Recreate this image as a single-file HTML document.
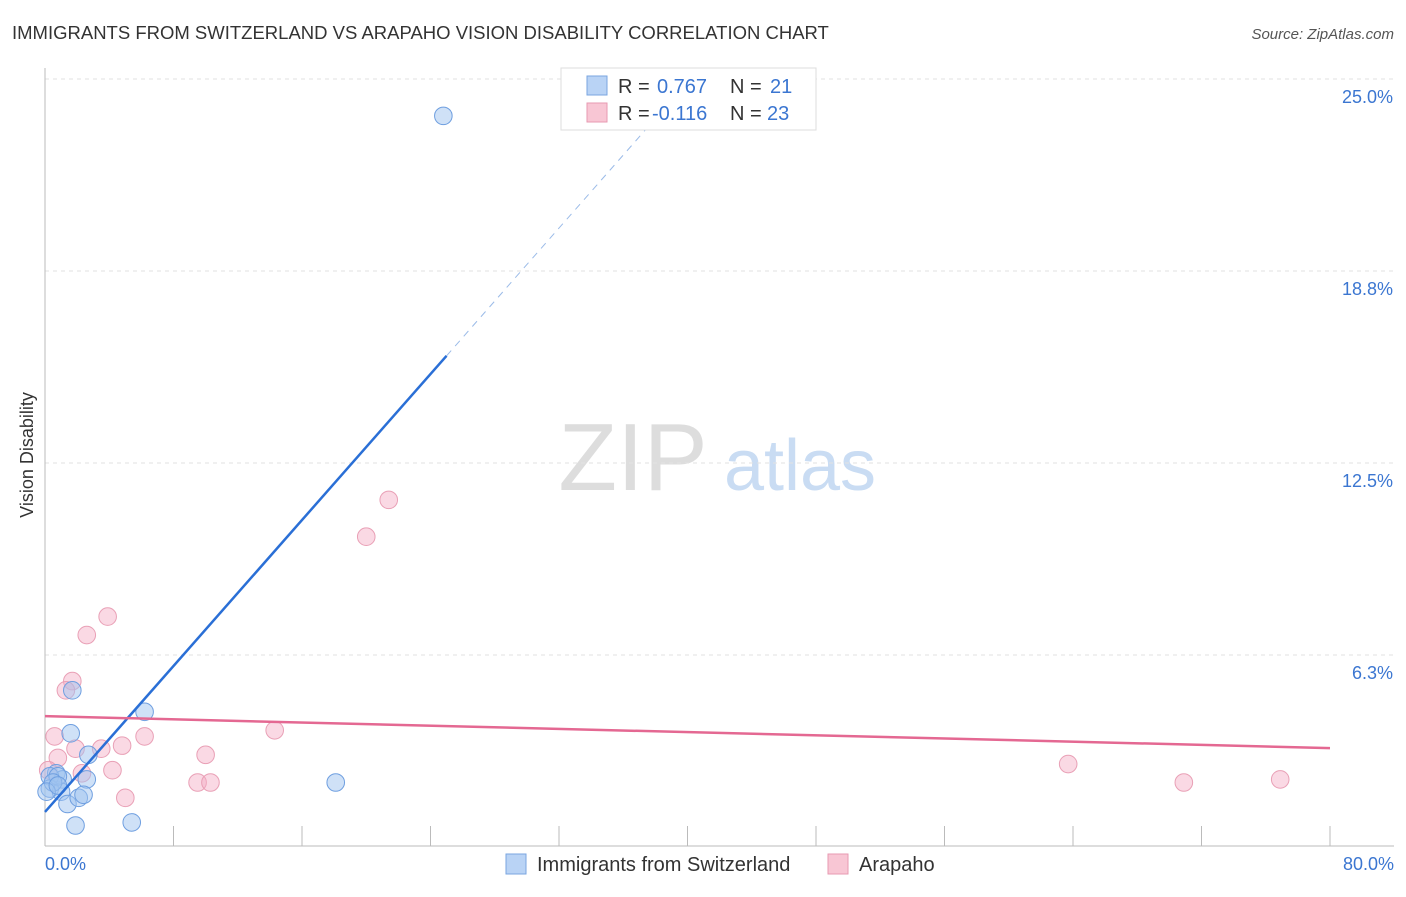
<!DOCTYPE html>
<html><head><meta charset="utf-8"><style>
body{margin:0;background:#fff;font-family:"Liberation Sans",sans-serif;}
svg text{font-family:"Liberation Sans",sans-serif;}
</style></head><body>
<svg id="chart" width="1406" height="892" xmlns="http://www.w3.org/2000/svg">
<text x="12" y="39" font-size="18.5" fill="#333">IMMIGRANTS FROM SWITZERLAND VS ARAPAHO VISION DISABILITY CORRELATION CHART</text>
<text x="1394" y="39" font-size="15" fill="#555" font-style="italic" text-anchor="end">Source: ZipAtlas.com</text>
<text x="33" y="455" font-size="18" fill="#333" text-anchor="middle" transform="rotate(-90 33 455)">Vision Disability</text>
<g><text x="633" y="490" font-size="96" fill="#ddd" font-family="Liberation Serif" text-anchor="middle">ZIP</text><text x="800" y="490" font-size="72" fill="#c9dcf3" text-anchor="middle">atlas</text></g>
<g id="grid"></g><g id="marks"></g>
<g>
<rect x="561" y="68" width="255" height="62" fill="#fff" stroke="#ddd"/>
<rect x="587" y="76" width="20" height="19" fill="#b9d3f5" stroke="#7aa6e0"/>
<text x="618" y="93" font-size="20" fill="#333">R = </text><text x="657" y="93" font-size="20" fill="#3b76d1">0.767</text>
<text x="730" y="93" font-size="20" fill="#333">N = </text><text x="770" y="93" font-size="20" fill="#3b76d1">21</text>
<rect x="587" y="103" width="20" height="19" fill="#f8c6d4" stroke="#e79ab2"/>
<text x="618" y="120" font-size="20" fill="#333">R = </text><text x="652" y="120" font-size="20" fill="#3b76d1">-0.116</text>
<text x="730" y="120" font-size="20" fill="#333">N = </text><text x="767" y="120" font-size="20" fill="#3b76d1">23</text>
</g>
<g>
<rect x="506" y="854" width="20" height="20" fill="#b9d3f5" stroke="#7aa6e0"/>
<text x="537" y="871" font-size="20" fill="#333">Immigrants from Switzerland</text>
<rect x="828" y="854" width="20" height="20" fill="#f8c6d4" stroke="#e79ab2"/>
<text x="859" y="871" font-size="20" fill="#333">Arapaho</text>
</g>
</svg>
<script>
const yTicks=[6.25,12.5,18.75,25];
const yTickLabels=["6.3%","12.5%","18.8%","25.0%"];
const xTickLabels=["0.0%","80.0%"];
const blueX=[24.8,1.6,1.7,6.2,2.7,2.6,18.1,5.4,1.9,0.7,1.1,0.3,0.3,1.0,1.4,2.1,2.4,0.8,0.5,0.1,0.8];
const blueY=[23.8,3.7,5.1,4.4,3.0,2.2,2.1,0.8,0.7,2.4,2.2,2.3,1.9,1.8,1.4,1.6,1.7,2.3,2.1,1.8,2.0];
const pinkX=[21.4,20.0,3.9,2.6,1.7,1.3,14.3,0.6,6.2,4.8,3.5,1.9,0.8,10.0,4.2,2.3,0.2,9.5,10.3,5.0,63.7,70.9,76.9];
const pinkY=[11.3,10.1,7.5,6.9,5.4,5.1,3.8,3.6,3.6,3.3,3.2,3.2,2.9,3.0,2.5,2.4,2.5,2.1,2.1,1.6,2.7,2.1,2.2];
const blueTrend=[1.14,0.594];
const pinkTrend=[4.26,-0.013];
const X=v=>45+v/80*1285, Y=v=>847-v/6.25*192;
const NS="http://www.w3.org/2000/svg";
function mk(p,t,a){const e=document.createElementNS(NS,t);for(const k in a)e.setAttribute(k,a[k]);p.appendChild(e);return e;}
const g=document.getElementById('grid'), m=document.getElementById('marks');
yTicks.forEach((t,i)=>{
 const l=mk(g,'line',{x1:45,x2:1394,y1:Y(t),y2:Y(t),stroke:'#e2e2e2','stroke-dasharray':'4 4'});
 
 
 const tx=mk(g,'text',{x:1393,y:Y(t)+24,'font-size':18,fill:'#3b76d1','text-anchor':'end'});tx.textContent=yTickLabels[i];
 
 
});
mk(g,'line',{x1:45,x2:45,y1:68,y2:846,stroke:'#bbb'});
mk(g,'line',{x1:45,x2:1394,y1:846,y2:846,stroke:'#bbb'});
for(let i=1;i<=10;i++){const x=X(i*8);mk(g,'line',{x1:x,x2:x,y1:826,y2:846,stroke:'#bbb'});}
xTickLabels.forEach((s,i)=>{const t=mk(g,'text',{x:i?1394:45,y:870,'font-size':18,fill:'#3b76d1','text-anchor':i?'end':'start'});t.textContent=s;
 
 });
pinkX.forEach((v,i)=>{const c=mk(m,'circle',{cx:X(v),cy:Y(pinkY[i]),r:8.8,fill:'rgba(245,170,195,0.45)',stroke:'#e9a0b6'});
 
 });
blueX.forEach((v,i)=>{const c=mk(m,'circle',{cx:X(v),cy:Y(blueY[i]),r:8.8,fill:'rgba(160,195,240,0.5)',stroke:'#6f9fe0'});
 
 });
const bl=mk(m,'line',{x1:X(0),y1:Y(blueTrend[0]),x2:X(25),y2:Y(blueTrend[0]+blueTrend[1]*25),stroke:'#2a6fd6','stroke-width':2.5});


const bd=mk(m,'line',{x1:X(25),y1:Y(blueTrend[0]+blueTrend[1]*25),x2:X(38),y2:Y(blueTrend[0]+blueTrend[1]*38),stroke:'#9bbbe8','stroke-width':1,'stroke-dasharray':'7 6'});


const pl=mk(m,'line',{x1:X(0),y1:Y(pinkTrend[0]),x2:X(80),y2:Y(pinkTrend[0]+pinkTrend[1]*80),stroke:'#e46892','stroke-width':2.5});


</script>
</body></html>
